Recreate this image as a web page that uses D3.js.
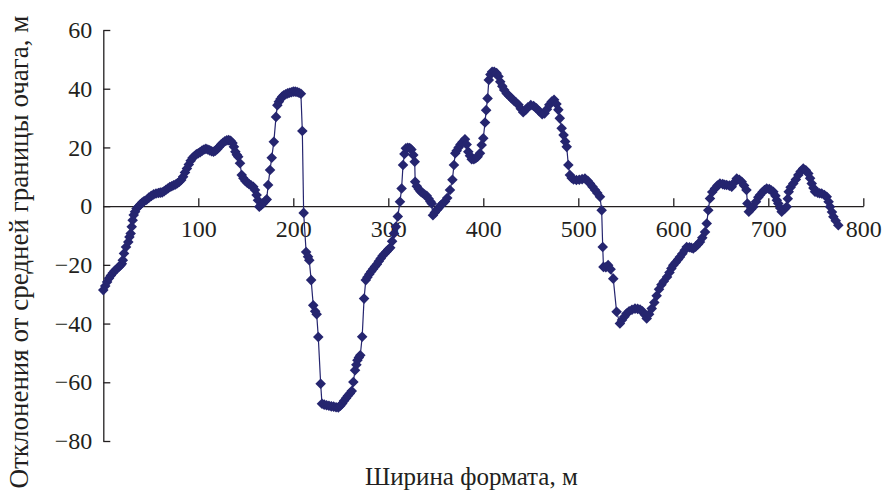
<!DOCTYPE html>
<html>
<head>
<meta charset="utf-8">
<script src="https://cdn.jsdelivr.net/npm/d3@7"></script>
<style>
  body { margin: 0; background: #fff; }
  svg text { fill: #231f20; }
</style>
</head>
<body>
<svg id="chart" width="884" height="499"></svg>
<script>
// Position across the working face, m
const widthM = [
  0, 2, 4, 6, 8, 10, 12, 14, 16, 18, 19.5, 20.5, 21.8, 23.9, 26.3, 27.5, 28.8, 29.9, 30.9, 32, 33.4, 35, 36.8,
  39, 41, 43, 45.6, 48, 50.5, 53, 55.5, 58, 60, 62, 64, 66, 68, 70, 72, 74, 76, 78, 80, 82,
  84, 86, 88, 90, 92, 94, 96, 98, 100, 102, 104, 106, 108, 110, 112, 114, 116, 118, 120, 122, 124, 126, 128, 130, 132, 134,
  136, 137.5, 139, 140.5, 142, 143.9, 145.7, 147.5, 149.5, 151.5, 153.5, 155.5, 157.9, 159.7, 161.4, 162.8, 164.2,
  166, 168, 170, 172, 173.5, 175.5, 177.3, 179.5, 181.8, 183.2, 184.8, 186.5, 188.3, 190, 192, 194, 196, 198, 200, 202, 204, 206, 208,
  209.5, 210.9, 213.5, 215.5, 216.8, 218.8, 221, 223, 224.6, 226.3, 228.8, 230.2, 232.5, 235, 237.5, 240, 242.5, 245, 247.4,
  249.5, 251.5, 253.5, 255.5, 257.5, 259.5, 261.5, 263.2, 265, 266.4, 267.5, 269, 270.5, 272.5, 274.5, 276.3,
  278, 280, 282, 284, 286, 288, 290, 292, 294, 296, 298, 300, 302, 304, 306, 308, 310, 312.3, 314, 315.5, 317, 318.5,
  320.5, 322.5, 324.3, 326.3, 327.8, 328.3, 330, 332, 334, 336, 338, 340.4, 342.5, 344.3, 345.7, 347, 349, 351, 352.6,
  355, 357.5, 359.7, 362, 364.9, 367.5, 369.1, 370.5, 372, 374, 376, 378, 380.7, 382.5, 384.2, 386, 387.8, 390, 392, 394, 396.5,
  398.3, 400, 401.8, 403, 404.5, 405.8, 407.5, 409.3, 411.5, 414, 416, 417.8, 420, 422, 424.6, 427, 429.5, 432, 434.5, 437, 439.5,
  442, 444.5, 447, 450, 453, 456, 459, 462, 464.5, 467, 469.5, 472, 474.5, 477, 479, 480.5, 482.5, 484.5, 486.2, 487.8,
  489.5, 491.2, 493, 495, 498, 501, 504, 507, 510, 512.3, 515, 517.6, 520, 522.8, 524.6, 525.7, 526.5, 529, 531.4, 534, 536.8,
  540.3, 543.8, 546, 548.5, 550.8, 553.5, 556.5, 559.7, 562.5, 565, 567.5, 570, 572, 574.5, 577.3, 580, 582.5, 585, 587.5, 590,
  593.4, 596, 598, 600, 602.5, 605, 607, 609.5, 612, 614.1, 617, 619, 621, 623.5, 626, 628.1, 630.5, 633.4, 635.2, 636.8, 638.6,
  641, 643.9, 646.5, 649.1, 652, 654, 656.2, 659, 661.5, 664, 666.8, 669.5, 672, 674.5, 677, 678, 679.5, 682, 684.3, 687, 689.5,
  691.3, 694, 696, 698.3, 701, 703, 705.3, 707.5, 709, 710.5, 712.5, 714.1, 717, 719.4, 720.5, 721.5, 723.5, 726.3, 729, 731.6,
  734, 736.8, 739.5, 742.1, 744, 745.7, 747.5, 749.2, 752, 754, 756.2, 759, 761.5, 763.5, 765, 767, 768.5, 771, 773.7
];

// Deviation from the mean boundary of the zone, m
const deviationM = [
  -28.6, -27.2, -25.8, -24.6, -23.6, -22.8, -22, -21.4, -20.8, -20.2, -19.6, -18.4, -16.1, -13.9, -12.2, -10.5, -9.3, -7, -4.8, -3, -1.9, -0.8, -0.2,
  0.6, 1.2, 1.7, 2.2, 2.9, 3.5, 4, 4.3, 4.5, 4.6, 4.7, 5.1, 5.6, 6, 6.5, 6.8, 7.1, 7.4, 7.8, 8.3, 8.9,
  10, 11.5, 12.8, 14.2, 15.5, 16.5, 17.1, 17.7, 18, 18.4, 18.9, 19.3, 19.5, 19.3, 19, 18.7, 18.5, 18.9, 19.5, 20.2, 21, 21.6, 22.1, 22.4, 22.5, 22.3,
  21.5, 20.2, 18.5, 17.5, 16.8, 14.6, 10.6, 9.5, 8.6, 8, 7.5, 7.1, 6.6, 5.5, 3.8, 2, -0.2,
  0.3, 0.9, 1.6, 2.3, 7.2, 12.3, 16.5, 21.9, 30.4, 34.4, 35.6, 36.5, 37.3, 37.8, 38.1, 38.4, 38.6, 38.8, 39, 39, 38.9, 38.6, 38.3,
  25.6, -2.3, -15.6, -17.2, -18.4, -25.2, -33.8, -35.8, -36.8, -44.6, -60.5, -67.3, -67.6, -67.8, -68, -68.2, -68.3, -68.5, -68.6,
  -68, -67.2, -66.3, -65.4, -64.6, -63.8, -63, -59.9, -55.9, -54, -52.5, -51.6, -50.8, -44.5, -31.5, -25.2,
  -24.2, -23.2, -22.3, -21.4, -20.6, -19.8, -18.8, -17.8, -16.9, -16.2, -15.5, -14.8, -14.2, -12, -9.3, -7, -3.5, 1.5, 6, 14, 17.8, 19.7,
  19.9, 19.8, 19.3, 17.4, 15.1, 8.3, 6.8, 5.8, 5, 4.5, 4, 3.5, 2.5, 1.6, 0.9, -3.1, -2.2, -1.3, -0.8,
  0.2, 1, 1.6, 2.8, 5.5, 9, 14, 18, 18.9, 20, 21, 21.8, 22.8, 21, 18.5, 17.2, 16, 16, 16.3, 16.8, 18,
  20.8, 23.1, 28.5, 32.7, 36.7, 43, 44.8, 45.8, 45.8, 45.3, 44.2, 42.4, 40.8, 39.6, 38.4, 37.6, 36.8, 36, 35.3, 34.5, 33.2,
  32, 32.8, 33.7, 34.4, 34.1, 33.3, 32.3, 31.3, 31.6, 33, 34.5, 35.6, 36.2, 34.8, 32.8, 29.9, 26.5, 24.2, 22, 20.2,
  14, 10.6, 9.6, 9.1, 8.9, 9, 9.2, 9.4, 8.6, 7.7, 6.6, 5.5, 4.5, 3.2, -1.4, -13.9, -20.7, -20.8, -20.1, -21.5, -24.7,
  -36, -40, -38.8, -37.7, -36.6, -35.8, -35.3, -34.9, -35, -35.2, -35.8, -37, -38.3, -36.8, -34.9, -32.8, -30.5, -28.3, -26.8, -25.6,
  -24.1, -22.6, -21.2, -20.1, -19.2, -18.2, -17.3, -16.2, -15, -13.9, -14, -14.2, -14.4, -13.8, -13, -12.2, -10.8, -8.8, -5.9, -1.4, 2.6,
  4.8, 6, 7, 7.7, 7.5, 7.3, 7.2, 7, 6.6, 8, 9.4, 9, 8.3, 7, 5.5, 0.9, -1.9, -1, -0.2, 1.5, 3,
  3.8, 4.8, 5.5, 6, 5.8, 5.4, 4.9, 3.5, 2, 0.9, -0.6, -1.9, -1, -0.2, 2.5, 4.9, 6.4, 7.7, 9.1, 10.6,
  11.8, 12.8, 12.2, 11.1, 9.5, 7.7, 6.2, 4.9, 4.6, 4.4, 4.3, 3.8, 3.2, 1.5, -0.2, -2, -3.6, -5, -6.5
];

const xTicks = [100, 200, 300, 400, 500, 600, 700, 800];
const yTicks = [60, 40, 20, 0, -20, -40, -60, -80];
const xTitle = "Ширина формата, м";
const yTitle = "Отклонения от средней границы очага, м";

const svg = d3.select("#chart");
const color = "#25256f";
const ink = "#231f20";
const serif = '"Liberation Serif", "DejaVu Serif", "Times New Roman", serif';

const x = d3.scaleLinear().domain([0, 800]).range([103.3, 863.3]);
const y = d3.scaleLinear().domain([-80, 60]).range([441, 30]);

const points = widthM.map((w, i) => ({ w, d: deviationM[i] }));

// Vertical axis on the left edge, ticks pointing inward
const yAxis = svg.append("g")
  .attr("transform", `translate(${x(0)},0)`)
  .call(d3.axisLeft(y).tickValues(yTicks).tickSizeInner(-7).tickSizeOuter(0).tickPadding(11));

// Horizontal axis through zero, ticks pointing up
const xAxis = svg.append("g")
  .attr("transform", `translate(0,${y(0)})`)
  .call(d3.axisBottom(x).tickValues(xTicks).tickSizeInner(-8).tickSizeOuter(0).tickPadding(14));

[xAxis, yAxis].forEach(g => {
  g.attr("font-family", serif).attr("font-size", 24);
  g.selectAll("path.domain").attr("stroke", ink).attr("stroke-width", 1.3);
  g.selectAll(".tick line").attr("stroke", ink).attr("stroke-width", 1.3);
  g.selectAll(".tick text").attr("fill", ink);
});

// Connecting line
svg.append("path")
  .datum(points)
  .attr("fill", "none")
  .attr("stroke", color)
  .attr("stroke-width", 1.2)
  .attr("d", d3.line().x(p => x(p.w)).y(p => y(p.d)));

// Diamond markers
const diamond = d3.symbol().type(d3.symbolSquare).size(56);
svg.append("g")
  .selectAll("path")
  .data(points)
  .join("path")
  .attr("d", diamond)
  .attr("transform", p => `translate(${x(p.w)},${y(p.d)}) rotate(45)`)
  .attr("fill", color);

// Axis titles
svg.append("text")
  .attr("x", 365)
  .attr("y", 485)
  .attr("font-family", serif)
  .attr("font-size", 25)
  .text(xTitle);

svg.append("text")
  .attr("transform", "translate(28,252) rotate(-90)")
  .attr("text-anchor", "middle")
  .attr("font-family", serif)
  .attr("font-size", 27)
  .text(yTitle);
</script>
</body>
</html>
